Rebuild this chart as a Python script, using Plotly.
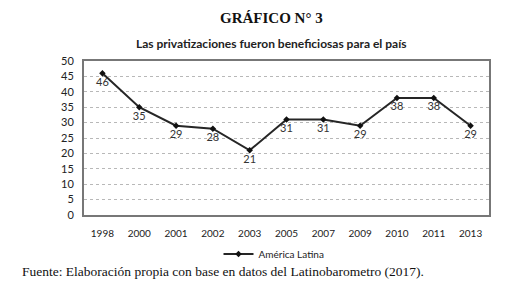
import plotly.graph_objects as go

years = ["1998", "2000", "2001", "2002", "2003", "2005", "2007", "2009", "2010", "2011", "2013"]
values = [46, 35, 29, 28, 21, 31, 31, 29, 38, 38, 29]
series_name = "América Latina"
y_ticks = [0, 5, 10, 15, 20, 25, 30, 35, 40, 45, 50]

W, H = 529, 308
ML, MR, MT, MB = 84, 40, 61, 93
pw = W - ML - MR
ph = H - MT - MB


def px_x(x):
    return (x - ML) / pw


def px_y(y):
    return (H - MB - y) / ph


fig = go.Figure()
fig.add_trace(go.Scatter(
    x=years, y=values, name=series_name,
    mode="lines+markers+text",
    text=[str(v) for v in values],
    textposition="bottom center",
    textfont=dict(family="Lato, Open Sans, sans-serif", size=11, color="#333333"),
    line=dict(color="#262626", width=2),
    marker=dict(symbol="diamond", size=5, color="#111111"),
    cliponaxis=False,
))

fig.update_layout(
    width=W, height=H,
    margin=dict(l=ML, r=MR, t=MT, b=MB, autoexpand=False),
    paper_bgcolor="white", plot_bgcolor="white",
    showlegend=True,
    legend=dict(orientation="h", x=px_x(274), xanchor="center", y=px_y(254), yanchor="middle",
                font=dict(family="Lato, Open Sans, sans-serif", size=10, color="#222222"),
                itemwidth=30, bgcolor="rgba(0,0,0,0)", borderwidth=0,
                tracegroupgap=0),
    xaxis=dict(type="category", range=[-0.5, 10.5], showgrid=False,
               tickfont=dict(family="Lato, Open Sans, sans-serif", size=10, color="#222222"),
               ticks="", showline=True, linecolor="#777777", linewidth=2, mirror=True,
               ticklabelstandoff=8),
    yaxis=dict(range=[0, 50], tickvals=y_ticks, showgrid=True,
               gridcolor="#b8b8b8", griddash="dot", gridwidth=1,
               tickfont=dict(family="Lato, Open Sans, sans-serif", size=11, color="#222222"),
               ticks="", showline=True, linecolor="#777777", linewidth=2, mirror=True,
               zeroline=False, ticklabelstandoff=6),
    annotations=[
        dict(text="<b>GRÁFICO N° 3</b>", x=px_x(271), y=px_y(18), xref="paper", yref="paper",
             yanchor="middle", showarrow=False,
             font=dict(family="Liberation Serif, serif", size=15, color="#111111")),
        dict(text="<b>Las privatizaciones fueron beneficiosas para el país</b>",
             x=px_x(271), y=px_y(43), xref="paper", yref="paper", yanchor="middle",
             showarrow=False,
             font=dict(family="Lato, Open Sans, sans-serif", size=12, color="#222222")),
        dict(text="Fuente: Elaboración propia con base en datos del Latinobarometro (2017).",
             x=px_x(20), y=px_y(271), xref="paper", yref="paper", xanchor="left",
             yanchor="middle", showarrow=False,
             font=dict(family="Liberation Serif, serif", size=13.5, color="#111111")),
    ],
)

fig.write_html("out.html", config={"displayModeBar": False},
               post_script="document.body.style.margin='0px';")
